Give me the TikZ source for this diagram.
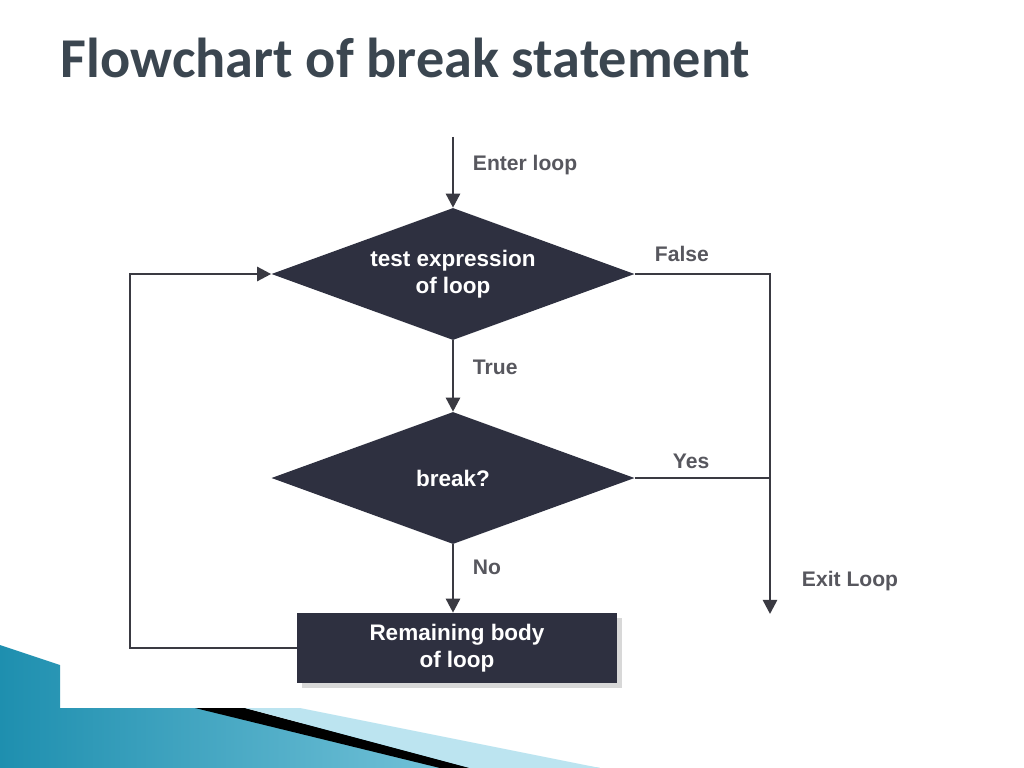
\documentclass[tikz,border=0pt]{standalone}
\usepackage{fontspec}
\setmainfont{Liberation Sans}
\newfontfamily\titlefont{Carlito}
\usetikzlibrary{shapes.geometric}
\usetikzlibrary{arrows.meta}
\definecolor{boxfill}{HTML}{2E3040}
\definecolor{linecol}{HTML}{3A3A42}
\definecolor{titlecol}{HTML}{3B4650}
\definecolor{tealA}{HTML}{1E8FAF}
\definecolor{tealB}{HTML}{8FD3E6}

\begin{document}
\begin{tikzpicture} [x=0.025cm, y=-0.025cm,
        every node/.style={font=\fontsize{15}{17}\selectfont\bfseries},
        decision/.style={draw=none, fill=boxfill, diamond, aspect=2.75, inner sep=0pt,
            minimum width=9.075cm, minimum height=3.3cm, text=white, align=center, font=\fontsize{16}{19}\selectfont\bfseries},
        process/.style={fill=boxfill, minimum width=7.975cm, minimum height=1.75cm, text=white,
            align=center, font=\fontsize{16}{19}\selectfont\bfseries},
        flow/.style={draw=linecol, line width=1.8pt, -{Triangle[length=10pt, width=10pt]}},
        lab/.style={text=linecol!85, anchor=west}]
            \useasboundingbox (0,0) rectangle (1024,768);
            \fill[white] (0,0) rectangle (1024,768);

            % decoration
            \shade[left color=tealA, right color=tealB] (0,645) -- (60,665) -- (60,708) -- (200,708) -- (600,768) -- (0,768) -- cycle;
            \fill[black] (195,708) -- (245,708) -- (470,768) -- (440,768) -- cycle;
            \fill[tealB!60] (245,708) -- (300,708) -- (600,768) -- (470,768) -- cycle;

            \node[font=\titlefont\fontsize{40}{44}\selectfont\bfseries, text=titlecol, anchor=west] (title) at (56,58) {Flowchart of break statement};

            \coordinate (start) at (453,137);
            \node[decision] (test) at (453,274) {test expression\\of loop};
            \node[decision] (brk) at (453,478) {break?};
            \node[process, fill=gray!50, opacity=0.6] (shadow) at (462,653) {};
            \node[process] (body) at (457,648) {Remaining body\\of loop};
            \coordinate (fcorner) at (770,274);
            \coordinate (ycorner) at (770,478);
            \coordinate (exit) at (770,614);
            \coordinate (bl) at (130,648);
            \coordinate (tl) at (130,274);

            \node[lab] (enter) at (468,165) {Enter loop};
            \node[lab] (true) at (468,367) {True};
            \node[lab] (no) at (468,567) {No};
            \node[lab] (false) at (650,254) {False};
            \node[lab] (yes) at (668,461) {Yes};
            \node[lab] (exitlab) at (797,581) {Exit Loop};

            \draw[flow] (start) -- (test);
            \draw[flow] (test) -- (brk);
            \draw[flow] (brk.south) -- (brk.south |- body.north);
            \draw[flow] (test.east) -- (fcorner) -- (exit);
            \draw[draw=linecol, line width=1.8pt] (brk.east) -- (ycorner);
            \draw[flow] (body.west) -- (bl) -- (tl) -- (test.west);
        \end{tikzpicture}
\end{document}
